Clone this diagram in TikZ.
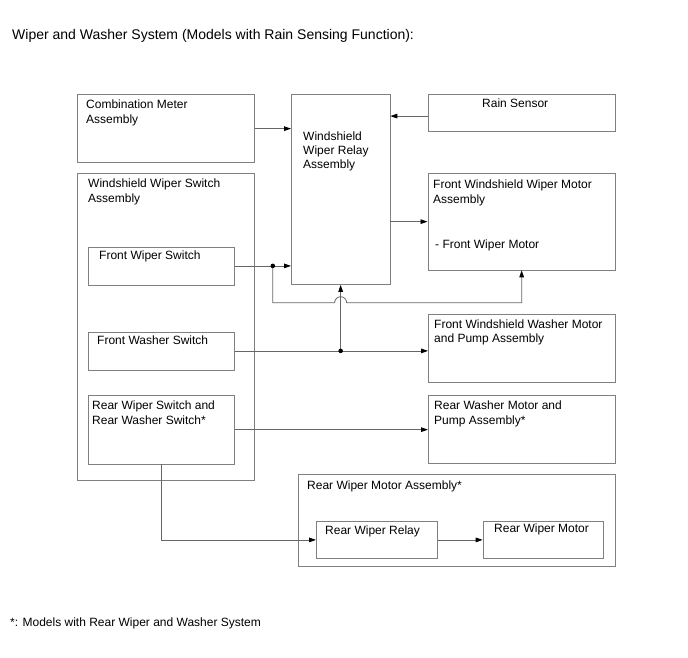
\documentclass[tikz,border=0pt]{standalone}
\usepackage{fontspec}
\setmainfont{Liberation Sans}
\usetikzlibrary{arrows.meta,calc}

\begin{document}
\begin{tikzpicture}[x=1pt,y=-1pt,>={Triangle[length=7pt,width=4.6pt,color=black]},
    line join=miter,
    blk/.style={draw=black!50,line width=.8pt,inner sep=0pt,anchor=north west},
    txt/.style={anchor=north west,inner sep=0pt,align=left,
      font=\fontsize{12}{14.3}\selectfont},
    wire/.style={draw=black!60,line width=.8pt},
    jdot/.style={circle,fill=black,inner sep=0pt,minimum size=4.6pt}]
    \useasboundingbox (0,0) rectangle (688,658);

    % Blocks: name / left / top / width / height, in pixels of the scan.
    \foreach \nm/\x/\y/\w/\h in {cmeter/77/94/177/68.5, relay/291/94/98.5/190,
        rain/428/94/187/37, wswitch/77/173/177/307, fws/88/246.5/146/38,
        fwash/88/331.5/146/38, rsw/88/395/146/68.5, fwmotor/427.5/173/187.5/96.5,
        fwpump/428/313.5/187/68, rwpump/428/395/187/67.7, rwassy/298/474/317/91.5,
        rwrelay/316/520.7/120.7/37.6, rwmotor/482.7/520.7/120.6/37.6}
      \node[blk,minimum width=\w pt,minimum height=\h pt] (\nm) at (\x,\y) {};

    \node[txt,font=\fontsize{14}{16}\selectfont] (title) at (12,29.5)
      {Wiper and Washer System (Models with Rain Sensing Function):};
    \node[txt] (cmeterT) at (86,100) {Combination Meter\\Assembly};
    \node[txt] (relayT) at (303,131.5) {Windshield\\Wiper Relay\\Assembly};
    \node[txt] (rainT) at (482,99) {Rain Sensor};
    \node[txt] (wswitchT) at (88,179) {Windshield Wiper Switch\\Assembly};
    \node[txt] (fwmotorT) at (433,180) {Front Windshield Wiper Motor\\Assembly};
    \node[txt] (fwmotorS) at (435,240) {- Front Wiper Motor};
    \node[txt] (fwsT) at (99,251) {Front Wiper Switch};
    \node[txt] (fwashT) at (97,336) {Front Washer Switch};
    \node[txt] (rswT) at (92,401) {Rear Wiper Switch and\\Rear Washer Switch*};
    \node[txt] (fwpumpT) at (434,319.5) {Front Windshield Washer Motor\\and Pump Assembly};
    \node[txt] (rwpumpT) at (434,401) {Rear Washer Motor and\\Pump Assembly*};
    \node[txt] (rwassyT) at (307,481) {Rear Wiper Motor Assembly*};
    \node[txt] (rwrelayT) at (325,526) {Rear Wiper Relay};
    \node[txt] (rwmotorT) at (494,524) {Rear Wiper Motor};
    \node[txt] (note) at (10,618) {*: Models with Rear Wiper and Washer System};

    % Signal lines into and out of the relay.
    \draw[wire,->] (cmeter.east) -- (relay.west |- cmeter.east);
    \draw[wire,->] ($(rain.west)+(0,3.2)$) -- (relay.east |- {$(rain.west)+(0,3.2)$});
    \draw[wire,->] (relay.east |- fwmotor.west) -- (fwmotor.west);

    % Front wiper switch: to the relay and, past the hop, to the motor.
    \coordinate (j1) at ($(fws.east)+(38,0)$);
    \coordinate (hop) at (relay.south |- 0,302.7);
    \draw[wire,->] (fws.east) -- (relay.west |- fws.east);
    \draw[wire,->] (j1) |- ($(hop)+(-6,0)$) arc[start angle=180,end angle=360,radius=6]
      -- (fwmotor.south |- hop) -- (fwmotor.south);
    \node[jdot] (d1) at (j1) {};

    % Front washer switch: to the pump and up to the relay.
    \coordinate (j2) at (relay.south |- fwash.east);
    \draw[wire,->] (fwash.east) -- (fwpump.west |- fwash.east);
    \draw[wire,->] (j2) -- (relay.south);
    \node[jdot] (d2) at (j2) {};

    % Rear switch and rear wiper motor assembly.
    \draw[wire,->] (rsw.east) -- (rwpump.west |- rsw.east);
    \draw[wire,->] (rsw.south) |- (rwrelay.west);
    \draw[wire,->] (rwrelay.east) -- (rwmotor.west);
  \end{tikzpicture}
\end{document}
